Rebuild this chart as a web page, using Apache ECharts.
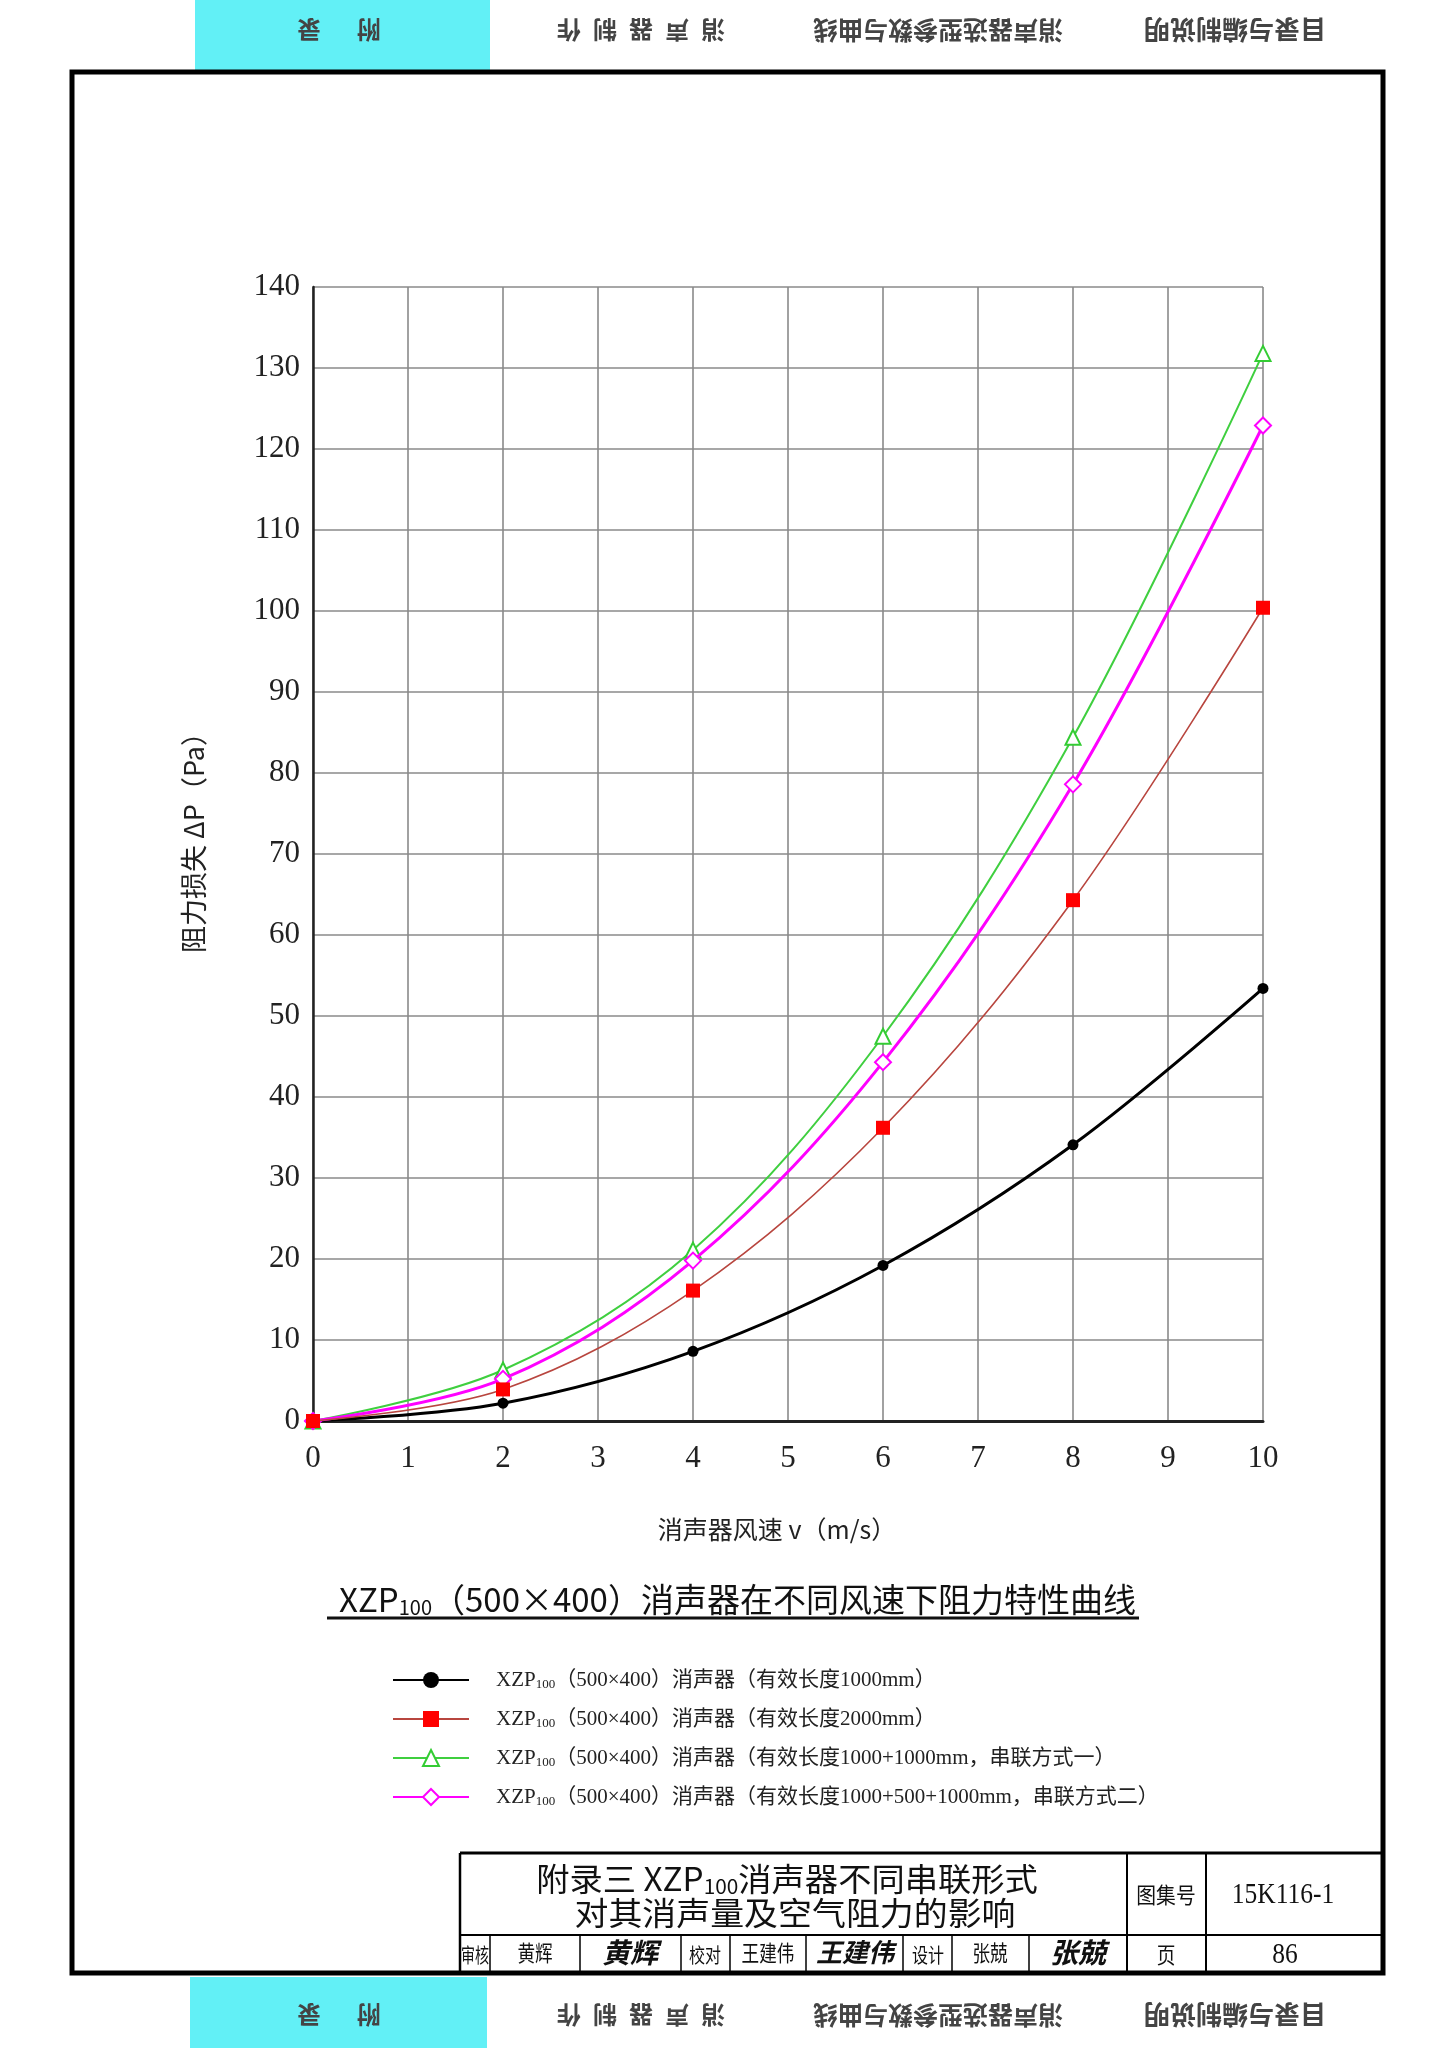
<!DOCTYPE html>
<html>
<head>
<meta charset="utf-8">
<script src="https://cdn.jsdelivr.net/npm/echarts@6/dist/echarts.min.js"></script>
<style>
html,body{margin:0;padding:0;background:#fff;}
#c{width:1456px;height:2048px;}
</style>
</head>
<body>
<div id="c"></div>
<script>
// ---- data ----
const speeds = [0, 2, 4, 6, 8, 10];
const loss1000 = [0, 2.2, 8.6, 19.2, 34.1, 53.4];
const loss2000 = [0, 3.9, 16.1, 36.2, 64.3, 100.4];
const lossSeries1 = [0, 6.3, 21.1, 47.5, 84.4, 131.8];
const lossSeries2 = [0, 5.2, 19.8, 44.3, 78.6, 122.9];
const xTicks = [0, 1, 2, 3, 4, 5, 6, 7, 8, 9, 10];
const yTicks = [0, 10, 20, 30, 40, 50, 60, 70, 80, 90, 100, 110, 120, 130, 140];
const seriesNames = [
  'XZP100（500×400）消声器（有效长度1000mm）',
  'XZP100（500×400）消声器（有效长度2000mm）',
  'XZP100（500×400）消声器（有效长度1000+1000mm，串联方式一）',
  'XZP100（500×400）消声器（有效长度1000+500+1000mm，串联方式二）'
];
const tabTexts = ['附\u3000\u2002录', '消\u2002声\u2002器\u2002制\u2002作', '消声器选型参数与曲线', '目录与编制说明'];

const pairs = arr => speeds.map((v, i) => [v, arr[i]]);
const CJK = "'Noto Sans CJK SC','Noto Sans',sans-serif";
const SERIF = "'Liberation Serif','Noto Sans CJK SC',serif";

const chart = echarts.init(document.getElementById('c'), null, {renderer: 'canvas'});

// header / footer tabs
const tabX = [339, 641, 938, 1235];
const tabSizes = [24, 24, 25, 26];
const graphics = [
  {type: 'rect', shape: {x: 195, y: 0, width: 295, height: 70}, style: {fill: '#62f0f6'}, z: 1},
  {type: 'rect', shape: {x: 190, y: 1977, width: 297, height: 71}, style: {fill: '#62f0f6'}, z: 1}
];
[30, 2015].forEach(cy => {
  tabTexts.forEach((t, i) => {
    graphics.push({type: 'text', x: tabX[i], y: cy, rotation: Math.PI, z: 2,
      style: {text: t, fontSize: tabSizes[i], fontFamily: CJK, fontWeight: 'bold', fill: '#444', align: 'center', verticalAlign: 'middle'}});
  });
});
// page frame
graphics.push({type: 'rect', shape: {x: 72, y: 72, width: 1311, height: 1901}, style: {fill: null, stroke: '#000', lineWidth: 5}, z: 3});
// chart title underline
graphics.push({type: 'line', shape: {x1: 327, y1: 1618, x2: 1139, y2: 1618}, style: {stroke: '#111', lineWidth: 3}});
// title block
const tbTop = 1853, tbMid = 1935, tbBot = 1973;
graphics.push({type: 'line', shape: {x1: 460, y1: tbTop, x2: 1383, y2: tbTop}, style: {stroke: '#000', lineWidth: 3}});
graphics.push({type: 'line', shape: {x1: 460, y1: tbTop, x2: 460, y2: tbBot}, style: {stroke: '#000', lineWidth: 2.5}});
graphics.push({type: 'line', shape: {x1: 460, y1: tbMid, x2: 1383, y2: tbMid}, style: {stroke: '#000', lineWidth: 2}});
[1127, 1206].forEach(x => graphics.push({type: 'line', shape: {x1: x, y1: tbTop, x2: x, y2: tbBot}, style: {stroke: '#000', lineWidth: 2}}));
[490, 580, 681, 730, 806, 903, 952, 1029].forEach(x => graphics.push({type: 'line', shape: {x1: x, y1: tbMid, x2: x, y2: tbBot}, style: {stroke: '#000', lineWidth: 1.5}}));
const tbText = (txt, x, y, size, fam, extra, sx) => graphics.push({type: 'text', x: x, y: y, z: 4, scaleX: sx || 1,
  style: Object.assign({text: txt, fontSize: size, fontFamily: fam, fill: '#111', align: 'center', verticalAlign: 'middle'}, extra || {})});
graphics.push({type: 'text', x: 787, y: 1879, z: 4, scaleX: 1.04, style: {
  text: '附录三 XZP{s|100}消声器不同串联形式', fontSize: 32, fontFamily: CJK, fill: '#111', align: 'center', verticalAlign: 'middle',
  rich: {s: {fontSize: 20, fontFamily: CJK, fill: '#111', padding: [14, 0, 0, 0]}}}});
tbText('对其消声量及空气阻力的影响', 795, 1913, 32, CJK, null, 1.06);
tbText('图集号', 1166, 1895, 22, CJK, null, 0.9);
tbText('15K116-1', 1283, 1895, 30, SERIF, null, 0.85);
tbText('审核', 475, 1955, 20, CJK, null, 0.7);
tbText('黄辉', 535, 1955, 22, SERIF, null, 0.8);
tbText('黄辉', 630, 1952, 28, CJK, {fontStyle: 'italic', fontWeight: 'bold'});
tbText('校对', 705, 1955, 20, CJK, null, 0.8);
tbText('王建伟', 768, 1955, 22, SERIF, null, 0.8);
tbText('王建伟', 855, 1952, 26, CJK, {fontStyle: 'italic', fontWeight: 'bold'});
tbText('设计', 928, 1955, 20, CJK, null, 0.8);
tbText('张兢', 990, 1955, 22, SERIF, null, 0.8);
tbText('张兢', 1078, 1952, 28, CJK, {fontStyle: 'italic', fontWeight: 'bold'});
tbText('页', 1166, 1955, 22, CJK, null, 0.85);
tbText('86', 1285, 1955, 30, SERIF, null, 0.85);

const mkLine = (name, data, color, lineColor, width, symbol, size, z) => ({
  name: name, type: 'line', data: pairs(data), smooth: 0.35,
  symbol: symbol, symbolSize: size, z: z,
  lineStyle: {color: lineColor, width: width},
  itemStyle: {color: color, borderColor: color, borderWidth: symbol.indexOf('empty') === 0 ? 1.8 : 0},
  emphasis: {disabled: true}
});

chart.setOption({
  animation: false,
  backgroundColor: '#fff',
  title: {
    text: 'XZP{s|100}（500×400）消声器在不同风速下阻力特性曲线',
    left: 334, top: 1576,
    textStyle: {fontSize: 33, fontFamily: CJK, fontWeight: 'normal', color: '#111',
      rich: {s: {fontSize: 20, fontFamily: CJK, color: '#111', padding: [16, 0, 0, 0]}}}
  },
  legend: {
    orient: 'vertical', left: 387, top: 1662, itemWidth: 76, itemHeight: 20, itemGap: 13,
    data: seriesNames,
    formatter: n => n.replace('XZP100', 'XZP{s|100}'),
    textStyle: {fontSize: 21, fontFamily: SERIF, color: '#222', padding: [0, 0, 0, 22], lineHeight: 26,
      rich: {s: {fontSize: 13, fontFamily: SERIF, color: '#222', padding: [10, 0, 0, 0]}}}
  },
  grid: {left: 313, top: 287, width: 950, height: 1134, containLabel: false},
  xAxis: {
    type: 'value', min: xTicks[0], max: xTicks[xTicks.length - 1], interval: 1,
    name: '消声器风速 v（m/s）', nameLocation: 'middle', nameGap: 96,
    nameTextStyle: {fontSize: 25, fontFamily: CJK, color: '#222', padding: [0, 22, 0, 0]},
    axisLine: {show: true, onZero: false, lineStyle: {color: '#222', width: 3}},
    axisTick: {show: false},
    axisLabel: {fontSize: 31, fontFamily: SERIF, color: '#222', margin: 22},
    splitLine: {show: true, lineStyle: {color: '#8a8a8a', width: 1.6}}
  },
  yAxis: {
    type: 'value', min: yTicks[0], max: yTicks[yTicks.length - 1], interval: 10,
    name: '阻力损失 ΔP（Pa）', nameLocation: 'middle', nameGap: 106, nameRotate: 90,
    nameTextStyle: {fontSize: 27, fontFamily: CJK, color: '#222', padding: [0, 0, 0, 36]},
    axisLine: {show: true, lineStyle: {color: '#222', width: 2.5}},
    axisTick: {show: false},
    axisLabel: {fontSize: 31, fontFamily: SERIF, color: '#222', margin: 13},
    splitLine: {show: true, lineStyle: {color: '#8a8a8a', width: 1.6}}
  },
  series: [
    mkLine(seriesNames[0], loss1000, '#000000', '#000000', 3, 'circle', 11, 2),
    mkLine(seriesNames[2], lossSeries1, '#33cc33', '#3fcf3f', 2, 'emptyTriangle', 15, 3),
    mkLine(seriesNames[3], lossSeries2, '#ff00ff', '#ff00ff', 3, 'emptyDiamond', 16, 4),
    mkLine(seriesNames[1], loss2000, '#ff0000', '#b8463f', 1.6, 'rect', 14, 5)
  ],
  graphic: graphics
});
</script>
</body>
</html>
